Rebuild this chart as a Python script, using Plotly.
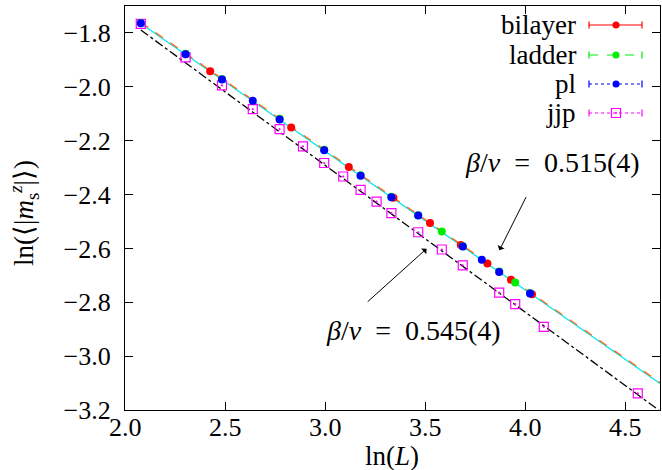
import plotly.graph_objects as go

# ln(L) and ln(<|m_s^z|>) for each lattice
pl_x = [2.079, 2.303, 2.485, 2.639, 2.773, 2.996, 3.178, 3.332, 3.466, 3.689, 3.784, 3.871, 4.025]
pl_y = [-1.764, -1.879, -1.973, -2.052, -2.121, -2.236, -2.330, -2.410, -2.478, -2.593, -2.642, -2.688, -2.767]

ladder_x = [2.079, 2.303, 2.485, 2.773, 2.996, 3.178, 3.332, 3.466, 3.584, 3.689, 3.871, 3.951, 4.025]
ladder_y = [-1.763, -1.877, -1.971, -2.119, -2.234, -2.328, -2.408, -2.477, -2.537, -2.592, -2.686, -2.727, -2.766]

bilayer_x = [2.426, 2.831, 3.119, 3.342, 3.525, 3.679, 3.812, 3.930, 4.035]
bilayer_y = [-1.942, -2.151, -2.298, -2.412, -2.506, -2.587, -2.656, -2.716, -2.770]

jjp_x = [2.079, 2.303, 2.485, 2.639, 2.773, 2.890, 2.996, 3.091, 3.178, 3.258,
         3.332, 3.466, 3.584, 3.689, 3.871, 3.951, 4.094, 4.564]
jjp_y = [-1.766, -1.891, -1.995, -2.083, -2.157, -2.221, -2.283, -2.333, -2.383, -2.426,
         -2.469, -2.540, -2.604, -2.663, -2.764, -2.807, -2.891, -3.138]

# power-law fits: y = c - (beta/nu) * x
fit_a = dict(slope=0.515, c=-0.690)   # bilayer / ladder / pl
fit_b = dict(slope=0.515, c=-0.694)
fit_j = dict(slope=0.545, c=-0.656)   # jjp

x_tick_vals = [2.0, 2.5, 3.0, 3.5, 4.0, 4.5]
x_tick_text = ["2.0", "2.5", "3.0", "3.5", "4.0", "4.5"]
y_tick_vals = [-3.2, -3.0, -2.8, -2.6, -2.4, -2.2, -2.0, -1.8]

x_range = [2.0, 4.675]
y_range = [-3.2, -1.7]
fit_start = 2.079

FONT = "'Liberation Serif', 'Times New Roman', serif"

fig = go.Figure()


def fit_line(fit, x_end):
    xs = [fit_start, x_end]
    ys = [fit["c"] - fit["slope"] * x for x in xs]
    return xs, ys


xe_j = min(x_range[1], (fit_j["c"] - y_range[0]) / fit_j["slope"])
for fit, color, dash, xe in [(fit_b, "#00e5ee", "solid", x_range[1]),
                             (fit_a, "#ff6a1a", "dash", x_range[1]),
                             (fit_j, "black", "dashdot", xe_j)]:
    xs, ys = fit_line(fit, xe)
    fig.add_trace(go.Scatter(x=xs, y=ys, mode="lines", showlegend=False,
                             line=dict(color=color, width=1.3, dash=dash),
                             hoverinfo="skip"))

marker_circ = dict(symbol="circle", size=8)
fig.add_trace(go.Scatter(x=jjp_x, y=jjp_y, mode="markers", name="jjp", showlegend=False,
                         marker=dict(symbol="square-open-dot", size=9, color="#ff00ff",
                                     line=dict(width=1.2, color="#ff00ff"))))
fig.add_trace(go.Scatter(x=bilayer_x, y=bilayer_y, mode="markers", name="bilayer", showlegend=False,
                         marker=dict(color="#ff0000", **marker_circ)))
fig.add_trace(go.Scatter(x=ladder_x, y=ladder_y, mode="markers", name="ladder", showlegend=False,
                         marker=dict(color="#00ee00", **marker_circ)))
fig.add_trace(go.Scatter(x=pl_x, y=pl_y, mode="markers", name="pl", showlegend=False,
                         marker=dict(color="#0000ff", **marker_circ)))

# plot area in pixels
L, T, W, H = 125, 6, 535, 404


def px(xp):
    return (xp - L) / W


def py(yp):
    return 1 - (yp - T) / H


shapes = []
annotations = []

# key with error-bar samples
legend_rows = [("bilayer", "#ff0000", "solid", "circle"),
               ("ladder", "#00ee00", "dash", "circle"),
               ("pl", "#0000ff", "dot", "circle"),
               ("jjp", "#ff00ff", "dot", "square")]
row_y = [25, 55, 84, 113]
x0s, x1s, xm = 589, 642, 616
for (name, color, dash, sym), yr in zip(legend_rows, row_y):
    annotations.append(dict(xref="paper", yref="paper", x=px(578), y=py(yr), text=name,
                            showarrow=False, xanchor="right", yanchor="middle",
                            font=dict(family=FONT, size=27, color="black")))
    shapes.append(dict(type="line", xref="paper", yref="paper", x0=px(x0s), x1=px(x1s),
                       y0=py(yr), y1=py(yr), line=dict(color=color, width=1.2, dash=dash)))
    for xc in (x0s, x1s):
        shapes.append(dict(type="line", xref="paper", yref="paper", x0=px(xc), x1=px(xc),
                           y0=py(yr - 3.5), y1=py(yr + 3.5), line=dict(color=color, width=1.2)))
    if sym == "circle":
        shapes.append(dict(type="circle", xref="paper", yref="paper", xsizemode="pixel",
                           ysizemode="pixel", xanchor=px(xm), yanchor=py(yr),
                           x0=-3.5, x1=3.5, y0=-3.5, y1=3.5,
                           fillcolor=color, line=dict(color=color, width=0)))
    else:
        shapes.append(dict(type="rect", xref="paper", yref="paper", xsizemode="pixel",
                           ysizemode="pixel", xanchor=px(xm), yanchor=py(yr),
                           x0=-4.5, x1=4.5, y0=-4.5, y1=4.5,
                           fillcolor="rgba(0,0,0,0)", line=dict(color=color, width=1.2)))
        shapes.append(dict(type="circle", xref="paper", yref="paper", xsizemode="pixel",
                           ysizemode="pixel", xanchor=px(xm), yanchor=py(yr),
                           x0=-1, x1=1, y0=-1, y1=1,
                           fillcolor=color, line=dict(color=color, width=0)))

# x tick labels, set just under the frame
for v, t in zip(x_tick_vals, x_tick_text):
    annotations.append(dict(x=v, xref="x", y=py(427), yref="paper", text=t, showarrow=False,
                            xanchor="center", yanchor="middle",
                            font=dict(family=FONT, size=26, color="black")))

# exponent labels with arrows
annotations += [
    dict(x=4.135, y=-2.281, xref="x", yref="y", showarrow=False,
         text="<i>β</i>/<i>ν</i>  =  0.515(4)", font=dict(family=FONT, size=28, color="black")),
    dict(x=3.44, y=-2.905, xref="x", yref="y", showarrow=False,
         text="<i>β</i>/<i>ν</i>  =  0.545(4)", font=dict(family=FONT, size=28, color="black")),
    dict(x=3.872, y=-2.607, ax=4.009, ay=-2.404, xref="x", yref="y", axref="x", ayref="y",
         text="", showarrow=True, arrowhead=1, arrowsize=1.3, arrowwidth=1, arrowcolor="black"),
    dict(x=3.508, y=-2.601, ax=3.206, ay=-2.803, xref="x", yref="y", axref="x", ayref="y",
         text="", showarrow=True, arrowhead=1, arrowsize=1.3, arrowwidth=1, arrowcolor="black"),
    # axis titles
    dict(xref="paper", yref="paper", x=px(392), y=py(456), xanchor="center", yanchor="middle",
         text="ln(<i>L</i>)", showarrow=False,
         font=dict(family=FONT, size=27, color="black")),
    dict(xref="paper", yref="paper", x=px(24), y=py(213), xanchor="center", yanchor="middle",
         textangle=-90, showarrow=False,
         text="ln(⟨|<i>m</i><sub>s</sub><sup><i>z</i></sup>|⟩)",
         font=dict(family=FONT, size=27, color="black")),
]

axis_common = dict(showline=True, mirror="ticks", linecolor="black", linewidth=1.2,
                   ticks="inside", ticklen=8, tickwidth=1, tickcolor="black",
                   showgrid=False, zeroline=False, tickformat=".1f",
                   tickfont=dict(family=FONT, size=26, color="black"))

fig.update_layout(
    width=662, height=470,
    font=dict(family=FONT, color="black"),
    margin=dict(l=L, r=662 - L - W, t=T, b=470 - T - H),
    paper_bgcolor="white", plot_bgcolor="white",
    xaxis=dict(range=x_range, tickvals=x_tick_vals, showticklabels=False, **axis_common),
    yaxis=dict(range=y_range, tickvals=y_tick_vals, ticklabelstandoff=8, **axis_common),
    shapes=shapes, annotations=annotations, showlegend=False,
)

fig.write_html("out.html")
